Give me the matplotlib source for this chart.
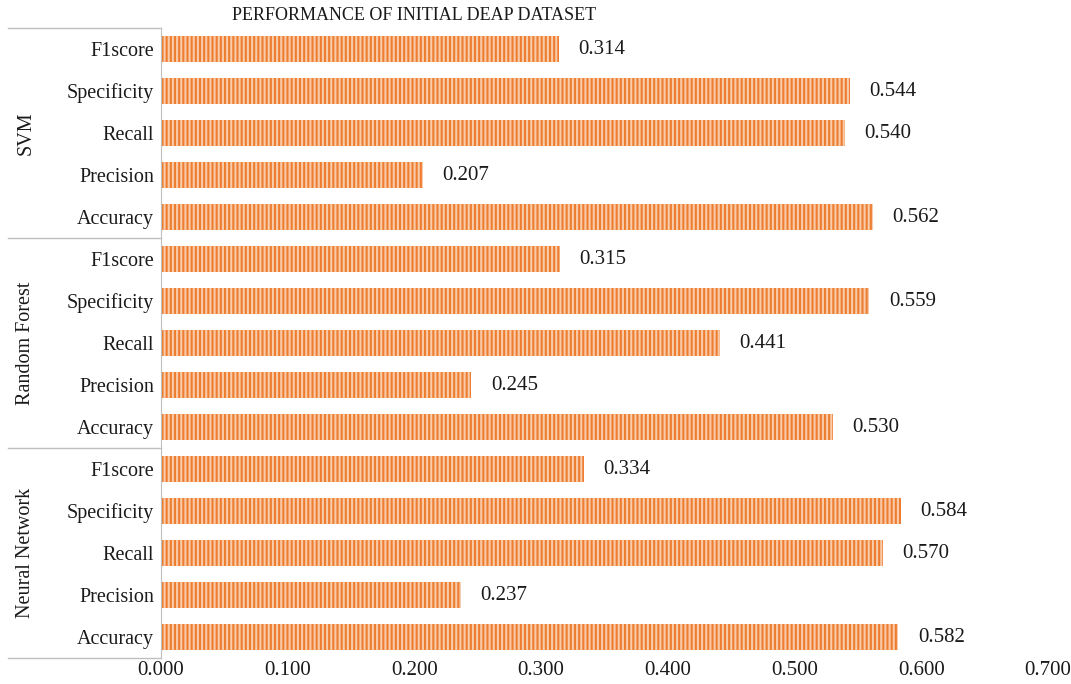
import numpy as np
import matplotlib
matplotlib.use('Agg')
import matplotlib.pyplot as plt

# metric values per model, listed top to bottom as drawn
models = ['SVM', 'Random Forest', 'Neural Network']
metrics = ['F1score', 'Specificity', 'Recall', 'Precision', 'Accuracy']
svm_vals = [0.314, 0.544, 0.540, 0.207, 0.562]
rf_vals = [0.315, 0.559, 0.441, 0.245, 0.530]
nn_vals = [0.334, 0.584, 0.570, 0.237, 0.582]
xticks = [0.0, 0.1, 0.2, 0.3, 0.4, 0.5, 0.6, 0.7]

plt.rcParams['font.family'] = 'Liberation Serif'
plt.rcParams['font.size'] = 14.5
plt.rcParams['hatch.linewidth'] = 1.5

fig = plt.figure(figsize=(10.71, 6.84), dpi=100)
ax = fig.add_axes([0.1503, 0.038, 0.8282, 0.921])

values = svm_vals + rf_vals + nn_vals
labels = metrics * len(models)
n = len(values)
ypos = np.arange(n)[::-1]

ax.barh(ypos, values, height=0.61, color='#ED7D31', edgecolor='#F9CBA8',
        hatch='||||', lw=0)

for y, v in zip(ypos, values):
    ax.annotate(f'{v:.3f}', (v, y), xytext=(14, 0), textcoords='offset points',
                va='center', ha='left', fontsize=15, color='#1a1a1a')

ax.set_ylim(-0.5, n - 0.5)
ax.set_xlim(0, 0.7)
ax.set_yticks(ypos)
ax.set_yticklabels(labels)
ax.set_xticks(xticks)
ax.set_xticklabels([f'{t:.3f}' for t in xticks], fontsize=15)
ax.tick_params(length=0, pad=5, labelcolor='#1a1a1a')
ax.tick_params(axis='x', pad=2)
for side in ['top', 'right', 'bottom']:
    ax.spines[side].set_visible(False)
ax.spines['left'].set_color('#bfbfbf')

# group separators and rotated model names in the left margin
trans = ax.get_yaxis_transform()
group_size = len(metrics)
x0 = -153 / 887
for i, name in enumerate(models):
    top = n - 0.5 - i * group_size
    bottom = top - group_size
    ax.plot([x0, 0], [top, top], transform=trans, color='#bfbfbf',
            lw=1, clip_on=False)
    ax.text(-135 / 887, (top + bottom) / 2, name, transform=trans, rotation=90,
            ha='center', va='center', fontsize=14.5, color='#1a1a1a')
ax.plot([x0, 0], [-0.5, -0.5], transform=trans, color='#bfbfbf',
        lw=1, clip_on=False)

fig.text(414 / 1071, 1 - 16 / 684, 'PERFORMANCE OF INITIAL DEAP DATASET',
         ha='center', va='center', fontsize=13, color='#1a1a1a')

fig.savefig('out.png', dpi=100)
